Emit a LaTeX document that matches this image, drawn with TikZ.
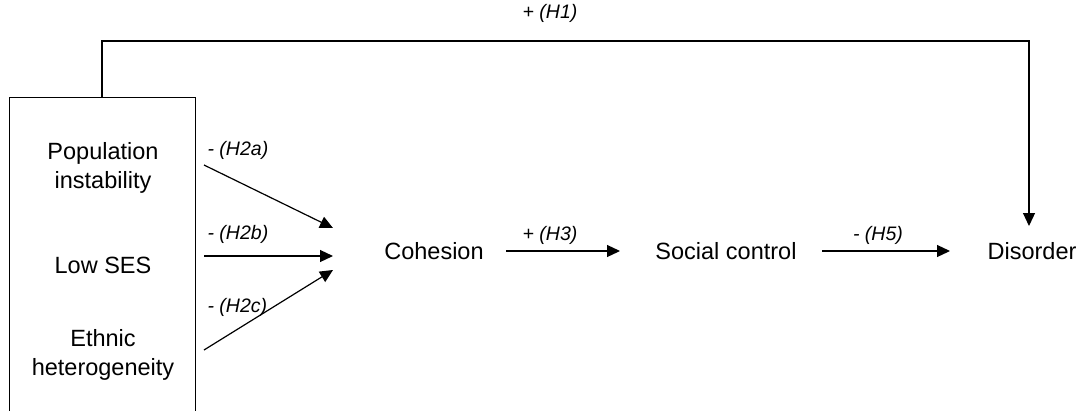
\documentclass[tikz,border=0pt]{standalone}
\usepackage{fontspec}
\setmainfont{Liberation Sans}
\usetikzlibrary{arrows.meta}
\begin{document}
\begin{tikzpicture}[x=1pt,y=-1pt, line width=1.2pt,
  lbl/.style={font=\fontsize{19.5}{22}\selectfont\itshape, inner sep=0pt},
  txt/.style={font=\fontsize{23.5}{29}\selectfont, align=center, inner sep=0pt},
  arr/.style={-{Triangle[length=13pt,width=12pt]}}]
\useasboundingbox (0,0) rectangle (1086,410);
\clip (0,0) rectangle (1086,410);
% left box
\node[draw, line width=1.2pt, minimum width=186pt, minimum height=340pt, anchor=north west, inner sep=0pt] (box) at (9,97) {};
\node[txt, anchor=base] (pop) at (103,188) {Population\\instability};
\node[txt, anchor=base] (ses) at (103,273) {Low SES};
\node[txt, anchor=base] (eth) at (103,375) {Ethnic\\heterogeneity};
% main chain
\node[txt, anchor=base] (coh) at (434,259) {Cohesion};
\node[txt, anchor=base] (soc) at (726,259) {Social control};
\node[txt, anchor=base] (dis) at (1032,259) {Disorder};
% connector end points
\coordinate (a1) at (204,165);
\coordinate (a2) at (204,256);
\coordinate (a3) at (204,350);
\coordinate (t1) at (333,228);
\coordinate (t2) at (333,256);
\coordinate (t3) at (333,270);
\coordinate (c1) at (506,251);
\coordinate (c2) at (620,251);
\coordinate (s1) at (822,251);
\coordinate (s2) at (950,251);
\coordinate (fb) at (102,97);
\coordinate (dt) at (1029,226);
\draw[arr] (a1) -- (t1);
\draw[arr] (a2) -- (t2);
\draw[arr] (a3) -- (t3);
\draw[arr] (c1) -- (c2);
\draw[arr] (s1) -- (s2);
\draw[arr] (fb) -- (102,41) -- (1029,41) -- (dt);
% labels
\node[lbl, anchor=base west] (l2a) at (207,155) {- (H2a)};
\node[lbl, anchor=base west] (l2b) at (207,239) {- (H2b)};
\node[lbl, anchor=base west] (l2c) at (207,312) {- (H2c)};
\node[lbl, anchor=base] (l1) at (550,18) {+ (H1)};
\node[lbl, anchor=base] (l3) at (550,240) {+ (H3)};
\node[lbl, anchor=base] (l5) at (878,240) {- (H5)};
\end{tikzpicture}
\end{document}
